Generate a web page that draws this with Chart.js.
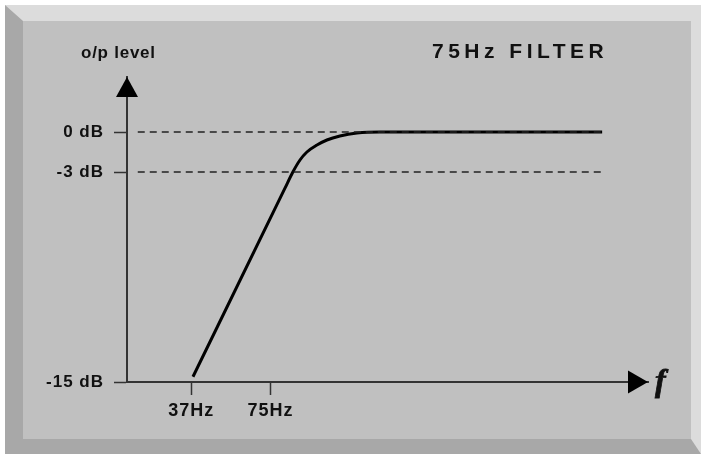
<!DOCTYPE html>
<html>
<head>
<meta charset="utf-8">
<script src="https://cdn.jsdelivr.net/npm/chart.js@4/dist/chart.umd.min.js"></script>
<style>
  html, body { margin: 0; padding: 0; background: #fff; }
  #wrap { position: relative; width: 701px; height: 454px; overflow: hidden; }
  /* bevelled panel: light top/right, dark left/bottom */
  #frame {
    position: absolute; left: 5px; top: 5px;
    width: 668px; height: 418px;
    background: #c0c0c0;
    border-top: 16px solid #dcdcdc;
    border-right: 10px solid #dcdcdc;
    border-left: 18px solid #a8a8a8;
    border-bottom: 15px solid #a8a8a8;
  }
  #chart { position: absolute; left: 0; top: 0; }
</style>
</head>
<body>
<div id="wrap">
  <div id="frame"></div>
  <canvas id="chart" width="701" height="454"></canvas>
</div>
<script>
// Axis ticks
const freqTicks = [37, 75];
const freqTickLabels = ['37Hz', '75Hz'];
const levelTicks = [0, -3, -15];
const levelTickLabels = ['0 dB', '-3 dB', '-15 dB'];

// Filter response (Hz, dB)
const responseFreq = [37.6, 85.2, 91.5, 97.5, 103.7, 113.4, 123.9, 139.1, 161.9, 198.7, 1436];
const responseLevel = [-14.7, -3.94, -3.0, -2.1, -1.5, -0.98, -0.6, -0.3, -0.08, 0, 0];

// Dashed reference lines
const referenceLevels = [0, -3];
const referenceFreqRange = [23, 1436];

const titleText = '75Hz FILTER';
const yAxisTitle = 'o/p level';
const xAxisTitle = 'f';

const ink = '#111';
const sans = '"Liberation Sans", Arial, sans-serif';

// The sketch stretches the axis below -3 dB, so split the scale at a break value
class SketchLevelScale extends Chart.LinearScale {
  getPixelForValue(value) {
    const brk = this.options.breakValue;
    const frac = this.options.breakFraction;
    const d = value <= brk
      ? frac * (value - this.min) / (brk - this.min)
      : frac + (1 - frac) * (value - brk) / (this.max - brk);
    return this.getPixelForDecimal(d);
  }
  getValueForPixel(pixel) {
    const brk = this.options.breakValue;
    const frac = this.options.breakFraction;
    const d = this.getDecimalForPixel(pixel);
    return d <= frac
      ? this.min + (d / frac) * (brk - this.min)
      : brk + ((d - frac) / (1 - frac)) * (this.max - brk);
  }
}
SketchLevelScale.id = 'sketchLevel';
SketchLevelScale.defaults = Chart.LinearScale.defaults;
Chart.register(SketchLevelScale);

const toPoints = (xs, ys) => xs.map((x, i) => ({ x, y: ys[i] }));

const datasets = referenceLevels.map(level => ({
  data: toPoints(referenceFreqRange, [level, level]),
  borderColor: '#222',
  borderWidth: 1.5,
  borderDash: [7, 5],
  pointRadius: 0
}));
datasets.push({
  data: toPoints(responseFreq, responseLevel),
  borderColor: '#000',
  borderWidth: 3,
  cubicInterpolationMode: 'monotone',
  pointRadius: 0
});

// Arrow heads, axis titles and the panel title
const sketchDecor = {
  id: 'sketchDecor',
  beforeDraw(chart) {
    // the tick labels in the sketch are slightly tracked out
    chart.ctx.letterSpacing = '1px';
  },
  afterDraw(chart) {
    const { ctx, chartArea: a } = chart;
    ctx.save();
    ctx.fillStyle = '#000';
    // up arrow
    ctx.beginPath();
    ctx.moveTo(a.left, a.top);
    ctx.lineTo(a.left + 11, a.top + 20);
    ctx.lineTo(a.left - 11, a.top + 20);
    ctx.closePath();
    ctx.fill();
    // right arrow
    ctx.beginPath();
    ctx.moveTo(a.right, a.bottom);
    ctx.lineTo(a.right - 20, a.bottom - 11.5);
    ctx.lineTo(a.right - 20, a.bottom + 11.5);
    ctx.closePath();
    ctx.fill();

    ctx.fillStyle = ink;
    ctx.textBaseline = 'alphabetic';
    ctx.textAlign = 'left';
    ctx.font = 'bold 17px ' + sans;
    ctx.letterSpacing = '0.75px';
    ctx.fillText(yAxisTitle, 81, 58);

    ctx.font = 'bold 21px ' + sans;
    ctx.letterSpacing = '4.5px';
    ctx.fillText(titleText, 432, 58);

    ctx.letterSpacing = '0px';
    ctx.font = 'bold italic 32px "Liberation Serif", serif';
    ctx.strokeStyle = ink;
    ctx.lineWidth = 0.8;
    ctx.fillText(xAxisTitle, 655, 391);
    ctx.strokeText(xAxisTitle, 655, 391);
    ctx.restore();
    ctx.letterSpacing = '0px';
  }
};

new Chart(document.getElementById('chart'), {
  type: 'line',
  data: { datasets },
  plugins: [sketchDecor],
  options: {
    responsive: false,
    animation: false,
    events: [],
    layout: { padding: { top: 77, right: 53, left: 0, bottom: 0 } },
    plugins: { legend: { display: false }, tooltip: { enabled: false } },
    scales: {
      x: {
        type: 'logarithmic',
        min: 20.9,
        max: 2160,
        afterBuildTicks: scale => { scale.ticks = freqTicks.map(value => ({ value })); },
        afterFit: scale => { scale.height = 72; },
        ticks: {
          autoSkip: false,
          maxRotation: 0,
          padding: 5,
          color: ink,
          font: { family: sans, size: 18, weight: 'bold' },
          callback: value => freqTickLabels[freqTicks.indexOf(value)]
        },
        grid: { drawOnChartArea: false, tickLength: 13, tickColor: '#333', tickWidth: 1.5 },
        border: { display: true, color: '#333', width: 2 }
      },
      y: {
        type: 'sketchLevel',
        min: -15,
        max: 4.125,
        breakValue: -3,
        breakFraction: 0.6885,
        afterBuildTicks: scale => { scale.ticks = levelTicks.map(value => ({ value })); },
        afterFit: scale => { scale.width = 127; },
        ticks: {
          autoSkip: false,
          padding: 10,
          color: ink,
          font: { family: sans, size: 17, weight: 'bold' },
          callback: value => levelTickLabels[levelTicks.indexOf(value)]
        },
        grid: { drawOnChartArea: false, tickLength: 13, tickColor: '#333', tickWidth: 1.5 },
        border: { display: true, color: '#333', width: 2 }
      }
    }
  }
});
</script>
</body>
</html>
